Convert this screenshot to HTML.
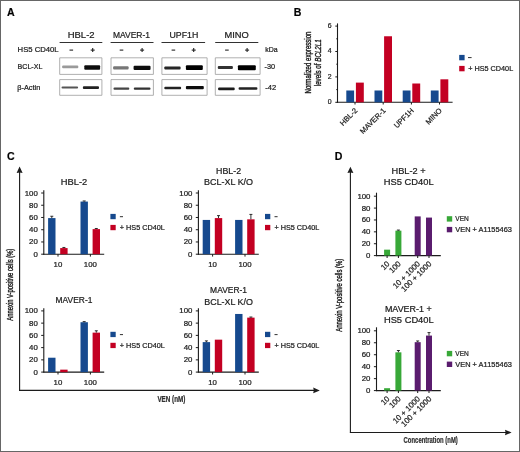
<!DOCTYPE html>
<html><head><meta charset="utf-8"><style>
html,body{margin:0;padding:0;background:#fff;}
body{width:520px;height:452px;overflow:hidden;}
svg{display:block;font-family:"Liberation Sans", sans-serif;}
text{stroke:#222;stroke-width:0.22px;}
</style></head><body>
<svg width="520" height="452" viewBox="0 0 520 452">
<defs><filter id="soft" x="0" y="0" width="100%" height="100%"><feGaussianBlur stdDeviation="0.4"/></filter>
<filter id="bb" x="-20%" y="-50%" width="140%" height="200%"><feGaussianBlur stdDeviation="0.75 0.7"/></filter></defs>
<rect x="0" y="0" width="520" height="452" fill="#fff"/>
<g filter="url(#soft)" stroke-linejoin="round">
<rect x="0" y="0" width="520" height="452" fill="#fff"/>
<text x="7" y="16" font-size="10.6" text-anchor="start" fill="#000" font-weight="bold" >A</text>
<text x="67.7" y="38.2" font-size="8.9" text-anchor="start" fill="#1a1a1a" textLength="26.9" lengthAdjust="spacingAndGlyphs" >HBL-2</text>
<text x="112.9" y="38.2" font-size="8.9" text-anchor="start" fill="#1a1a1a" textLength="37.1" lengthAdjust="spacingAndGlyphs" >MAVER-1</text>
<text x="169.5" y="38.2" font-size="8.9" text-anchor="start" fill="#1a1a1a" textLength="28.8" lengthAdjust="spacingAndGlyphs" >UPF1H</text>
<text x="224.5" y="38.2" font-size="8.9" text-anchor="start" fill="#1a1a1a" textLength="24.3" lengthAdjust="spacingAndGlyphs" >MINO</text>
<line x1="59.6" y1="42.5" x2="102.3" y2="42.5" stroke="#333" stroke-width="1.1"/>
<line x1="110.6" y1="42.5" x2="153.5" y2="42.5" stroke="#333" stroke-width="1.1"/>
<line x1="161.5" y1="42.5" x2="205.1" y2="42.5" stroke="#333" stroke-width="1.1"/>
<line x1="215.2" y1="42.5" x2="258.3" y2="42.5" stroke="#333" stroke-width="1.1"/>
<text x="17.6" y="52.4" font-size="7.2" text-anchor="start" fill="#1a1a1a" textLength="41" lengthAdjust="spacingAndGlyphs" >HS5 CD40L</text>
<line x1="69.5" y1="50.1" x2="73.1" y2="50.1" stroke="#222" stroke-width="1.1"/>
<line x1="119.7" y1="50.1" x2="123.3" y2="50.1" stroke="#222" stroke-width="1.1"/>
<line x1="171.6" y1="50.1" x2="175.20000000000002" y2="50.1" stroke="#222" stroke-width="1.1"/>
<line x1="225.1" y1="50.1" x2="228.70000000000002" y2="50.1" stroke="#222" stroke-width="1.1"/>
<line x1="90.7" y1="50.1" x2="94.7" y2="50.1" stroke="#222" stroke-width="1.1"/>
<line x1="92.7" y1="48.1" x2="92.7" y2="52.1" stroke="#222" stroke-width="1.1"/>
<line x1="140.1" y1="50.1" x2="144.1" y2="50.1" stroke="#222" stroke-width="1.1"/>
<line x1="142.1" y1="48.1" x2="142.1" y2="52.1" stroke="#222" stroke-width="1.1"/>
<line x1="191.7" y1="50.1" x2="195.7" y2="50.1" stroke="#222" stroke-width="1.1"/>
<line x1="193.7" y1="48.1" x2="193.7" y2="52.1" stroke="#222" stroke-width="1.1"/>
<line x1="245.1" y1="50.1" x2="249.1" y2="50.1" stroke="#222" stroke-width="1.1"/>
<line x1="247.1" y1="48.1" x2="247.1" y2="52.1" stroke="#222" stroke-width="1.1"/>
<text x="265.2" y="52.2" font-size="7.0" text-anchor="start" fill="#1a1a1a" textLength="12.4" lengthAdjust="spacingAndGlyphs" >kDa</text>
<text x="17.6" y="69.0" font-size="7.0" text-anchor="start" fill="#1a1a1a" textLength="24.8" lengthAdjust="spacingAndGlyphs" >BCL-XL</text>
<text x="17.3" y="89.5" font-size="7.0" text-anchor="start" fill="#1a1a1a" textLength="23" lengthAdjust="spacingAndGlyphs" >β-Actin</text>
<text x="264.5" y="68.9" font-size="7.0" text-anchor="start" fill="#1a1a1a" textLength="10.6" lengthAdjust="spacingAndGlyphs" >-30</text>
<text x="265.2" y="89.7" font-size="7.0" text-anchor="start" fill="#1a1a1a" textLength="10.9" lengthAdjust="spacingAndGlyphs" >-42</text>
<rect x="59.7" y="57.8" width="42.2" height="16.6" fill="#fff" stroke="#9c9c9c" stroke-width="0.8"/>
<rect x="59.7" y="79.6" width="42.2" height="15.7" fill="#fff" stroke="#9c9c9c" stroke-width="0.8"/>
<rect x="111.0" y="57.8" width="42.400000000000006" height="16.6" fill="#fff" stroke="#9c9c9c" stroke-width="0.8"/>
<rect x="111.0" y="79.6" width="42.400000000000006" height="15.7" fill="#fff" stroke="#9c9c9c" stroke-width="0.8"/>
<rect x="161.9" y="57.8" width="45.19999999999999" height="16.6" fill="#fff" stroke="#9c9c9c" stroke-width="0.8"/>
<rect x="161.9" y="79.6" width="45.19999999999999" height="15.7" fill="#fff" stroke="#9c9c9c" stroke-width="0.8"/>
<rect x="215.3" y="57.8" width="44.80000000000001" height="16.6" fill="#fff" stroke="#9c9c9c" stroke-width="0.8"/>
<rect x="215.3" y="79.6" width="44.80000000000001" height="15.7" fill="#fff" stroke="#9c9c9c" stroke-width="0.8"/>
<rect x="62.1" y="65.50" width="16.2" height="2.8" rx="1" fill="#9a9a9a" filter="url(#bb)"/>
<rect x="84.3" y="65.20" width="15.8" height="4.6" rx="1" fill="#0a0a0a" filter="url(#bb)"/>
<rect x="113.1" y="66.30" width="15.5" height="3.2" rx="1" fill="#777" filter="url(#bb)"/>
<rect x="133.6" y="65.70" width="16.9" height="4.4" rx="1" fill="#0a0a0a" filter="url(#bb)"/>
<rect x="164.3" y="66.40" width="16.3" height="3.0" rx="1" fill="#262626" filter="url(#bb)"/>
<rect x="185.9" y="65.30" width="16.9" height="4.8" rx="1" fill="#000" filter="url(#bb)"/>
<rect x="217.8" y="66.00" width="15.1" height="3.0" rx="1" fill="#303030" filter="url(#bb)"/>
<rect x="237.9" y="65.20" width="17.9" height="5.0" rx="1" fill="#000" filter="url(#bb)"/>
<rect x="61.5" y="86.40" width="16.6" height="2.2" rx="1" fill="#555" filter="url(#bb)"/>
<rect x="82.9" y="86.30" width="16.1" height="2.6" rx="1" fill="#222" filter="url(#bb)"/>
<rect x="113.5" y="87.50" width="15.8" height="2.2" rx="1" fill="#444" filter="url(#bb)"/>
<rect x="133.8" y="87.40" width="16.7" height="2.4" rx="1" fill="#333" filter="url(#bb)"/>
<rect x="164.3" y="86.80" width="16.8" height="2.4" rx="1" fill="#222" filter="url(#bb)"/>
<rect x="185.9" y="86.00" width="17.9" height="3.2" rx="1" fill="#0a0a0a" filter="url(#bb)"/>
<rect x="218.1" y="87.60" width="16.6" height="2.6" rx="1" fill="#1a1a1a" filter="url(#bb)"/>
<rect x="238.6" y="87.35" width="18.8" height="2.5" rx="1" fill="#222" filter="url(#bb)"/>
<text x="293.8" y="15.8" font-size="10.6" text-anchor="start" fill="#000" font-weight="bold" >B</text>
<line x1="337.5" y1="23.4" x2="337.5" y2="102.8" stroke="#1a1a1a" stroke-width="1.1"/>
<line x1="337.0" y1="102.3" x2="452.6" y2="102.3" stroke="#1a1a1a" stroke-width="1.1"/>
<line x1="335.3" y1="102.3" x2="337.5" y2="102.3" stroke="#1a1a1a" stroke-width="1"/>
<text x="331.6" y="104.2" font-size="6.9" text-anchor="end" fill="#1a1a1a" >0</text>
<line x1="336.3" y1="89.6" x2="337.5" y2="89.6" stroke="#1a1a1a" stroke-width="1"/>
<line x1="335.3" y1="76.9" x2="337.5" y2="76.9" stroke="#1a1a1a" stroke-width="1"/>
<text x="331.6" y="78.80000000000001" font-size="6.9" text-anchor="end" fill="#1a1a1a" >2</text>
<line x1="336.3" y1="64.2" x2="337.5" y2="64.2" stroke="#1a1a1a" stroke-width="1"/>
<line x1="335.3" y1="51.5" x2="337.5" y2="51.5" stroke="#1a1a1a" stroke-width="1"/>
<text x="331.6" y="53.4" font-size="6.9" text-anchor="end" fill="#1a1a1a" >4</text>
<line x1="336.3" y1="38.8" x2="337.5" y2="38.8" stroke="#1a1a1a" stroke-width="1"/>
<line x1="335.3" y1="26.10000000000001" x2="337.5" y2="26.10000000000001" stroke="#1a1a1a" stroke-width="1"/>
<text x="331.6" y="28.000000000000007" font-size="6.9" text-anchor="end" fill="#1a1a1a" >6</text>
<rect x="346.30" y="90.49" width="7.80" height="11.81" fill="#154a8e"/>
<rect x="355.90" y="82.61" width="7.90" height="19.68" fill="#c30024"/>
<line x1="355.0" y1="102.3" x2="355.0" y2="104.5" stroke="#1a1a1a" stroke-width="1"/>
<text x="358.0" y="111.1" font-size="7.5" text-anchor="end" fill="#1a1a1a" transform="rotate(-45 358.0 111.1)">HBL-2</text>
<rect x="374.50" y="90.49" width="7.80" height="11.81" fill="#154a8e"/>
<rect x="384.10" y="36.26" width="7.90" height="66.04" fill="#c30024"/>
<line x1="383.2" y1="102.3" x2="383.2" y2="104.5" stroke="#1a1a1a" stroke-width="1"/>
<text x="386.2" y="111.1" font-size="7.5" text-anchor="end" fill="#1a1a1a" transform="rotate(-45 386.2 111.1)">MAVER-1</text>
<rect x="402.70" y="90.49" width="7.80" height="11.81" fill="#154a8e"/>
<rect x="412.30" y="83.50" width="7.90" height="18.80" fill="#c30024"/>
<line x1="411.4" y1="102.3" x2="411.4" y2="104.5" stroke="#1a1a1a" stroke-width="1"/>
<text x="414.4" y="111.1" font-size="7.5" text-anchor="end" fill="#1a1a1a" transform="rotate(-45 414.4 111.1)">UPF1H</text>
<rect x="430.80" y="90.49" width="7.80" height="11.81" fill="#154a8e"/>
<rect x="440.40" y="79.31" width="7.90" height="22.99" fill="#c30024"/>
<line x1="439.5" y1="102.3" x2="439.5" y2="104.5" stroke="#1a1a1a" stroke-width="1"/>
<text x="442.5" y="111.1" font-size="7.5" text-anchor="end" fill="#1a1a1a" transform="rotate(-45 442.5 111.1)">MINO</text>
<text transform="translate(311.4 62.5) rotate(-90)" font-size="8.6" text-anchor="middle" fill="#111" style="stroke-width:.4px" textLength="62" lengthAdjust="spacingAndGlyphs">Normalized expression</text>
<text transform="translate(320.6 62.75) rotate(-90)" font-size="8.6" text-anchor="middle" fill="#111" style="stroke-width:.4px" textLength="47" lengthAdjust="spacingAndGlyphs">levels of <tspan font-style="italic">BCL2L1</tspan></text>
<rect x="459.20" y="54.90" width="5.40" height="5.40" fill="#154a8e"/>
<line x1="468.0" y1="57.6" x2="471.6" y2="57.6" stroke="#1a1a1a" stroke-width="0.9"/>
<rect x="459.20" y="65.90" width="5.40" height="5.40" fill="#c30024"/>
<text x="468.2" y="70.9" font-size="7.1" text-anchor="start" fill="#1a1a1a" textLength="45" lengthAdjust="spacingAndGlyphs" >+ HS5 CD40L</text>
<text x="6.9" y="159.9" font-size="10.6" text-anchor="start" fill="#000" font-weight="bold" >C</text>
<line x1="43.8" y1="190.3" x2="43.8" y2="254.7" stroke="#1a1a1a" stroke-width="1.1"/>
<line x1="43.3" y1="254.2" x2="104.2" y2="254.2" stroke="#1a1a1a" stroke-width="1.1"/>
<line x1="41.199999999999996" y1="254.2" x2="43.8" y2="254.2" stroke="#1a1a1a" stroke-width="1"/>
<text x="37.8" y="256.7" font-size="7.0" text-anchor="end" fill="#1a1a1a" textLength="4.36" lengthAdjust="spacingAndGlyphs" >0</text>
<line x1="41.199999999999996" y1="241.95999999999998" x2="43.8" y2="241.95999999999998" stroke="#1a1a1a" stroke-width="1"/>
<text x="37.8" y="244.45999999999998" font-size="7.0" text-anchor="end" fill="#1a1a1a" textLength="8.72" lengthAdjust="spacingAndGlyphs" >20</text>
<line x1="41.199999999999996" y1="229.72" x2="43.8" y2="229.72" stroke="#1a1a1a" stroke-width="1"/>
<text x="37.8" y="232.22" font-size="7.0" text-anchor="end" fill="#1a1a1a" textLength="8.72" lengthAdjust="spacingAndGlyphs" >40</text>
<line x1="41.199999999999996" y1="217.48" x2="43.8" y2="217.48" stroke="#1a1a1a" stroke-width="1"/>
<text x="37.8" y="219.98" font-size="7.0" text-anchor="end" fill="#1a1a1a" textLength="8.72" lengthAdjust="spacingAndGlyphs" >60</text>
<line x1="41.199999999999996" y1="205.23999999999998" x2="43.8" y2="205.23999999999998" stroke="#1a1a1a" stroke-width="1"/>
<text x="37.8" y="207.73999999999998" font-size="7.0" text-anchor="end" fill="#1a1a1a" textLength="8.72" lengthAdjust="spacingAndGlyphs" >80</text>
<line x1="41.199999999999996" y1="193.0" x2="43.8" y2="193.0" stroke="#1a1a1a" stroke-width="1"/>
<text x="37.8" y="195.5" font-size="7.0" text-anchor="end" fill="#1a1a1a" textLength="13.08" lengthAdjust="spacingAndGlyphs" >100</text>
<line x1="58.0" y1="254.2" x2="58.0" y2="256.59999999999997" stroke="#1a1a1a" stroke-width="1"/>
<rect x="48.10" y="218.09" width="7.40" height="36.11" fill="#154a8e"/>
<rect x="60.20" y="248.08" width="7.40" height="6.12" fill="#c30024"/>
<line x1="51.8" y1="216.25599999999997" x2="51.8" y2="218.09199999999998" stroke="#1a1a1a" stroke-width="0.9"/>
<line x1="50.3" y1="216.25599999999997" x2="53.3" y2="216.25599999999997" stroke="#1a1a1a" stroke-width="0.9"/>
<line x1="63.9" y1="247.468" x2="63.9" y2="248.07999999999998" stroke="#1a1a1a" stroke-width="0.9"/>
<line x1="62.4" y1="247.468" x2="65.4" y2="247.468" stroke="#1a1a1a" stroke-width="0.9"/>
<line x1="90.4" y1="254.2" x2="90.4" y2="256.59999999999997" stroke="#1a1a1a" stroke-width="1"/>
<rect x="80.50" y="201.57" width="7.40" height="52.63" fill="#154a8e"/>
<rect x="92.60" y="229.11" width="7.40" height="25.09" fill="#c30024"/>
<line x1="84.2" y1="200.956" x2="84.2" y2="201.56799999999998" stroke="#1a1a1a" stroke-width="0.9"/>
<line x1="82.7" y1="200.956" x2="85.7" y2="200.956" stroke="#1a1a1a" stroke-width="0.9"/>
<line x1="96.30000000000001" y1="228.49599999999998" x2="96.30000000000001" y2="229.108" stroke="#1a1a1a" stroke-width="0.9"/>
<line x1="94.80000000000001" y1="228.49599999999998" x2="97.80000000000001" y2="228.49599999999998" stroke="#1a1a1a" stroke-width="0.9"/>
<text x="58.0" y="266.6" font-size="7.0" text-anchor="middle" fill="#1a1a1a" textLength="8.72" lengthAdjust="spacingAndGlyphs" >10</text>
<text x="90.4" y="266.6" font-size="7.0" text-anchor="middle" fill="#1a1a1a" textLength="13.08" lengthAdjust="spacingAndGlyphs" >100</text>
<text x="74.0" y="184.9" font-size="8.6" text-anchor="middle" fill="#1a1a1a" textLength="26.5" lengthAdjust="spacingAndGlyphs" >HBL-2</text>
<rect x="110.40" y="213.90" width="5.30" height="5.30" fill="#154a8e"/>
<line x1="119.9" y1="216.7" x2="123.0" y2="216.7" stroke="#1a1a1a" stroke-width="0.9"/>
<rect x="110.40" y="224.90" width="5.30" height="5.30" fill="#c30024"/>
<text x="119.8" y="229.9" font-size="7.1" text-anchor="start" fill="#1a1a1a" textLength="45" lengthAdjust="spacingAndGlyphs" >+ HS5 CD40L</text>
<line x1="198.39999999999998" y1="190.3" x2="198.39999999999998" y2="254.7" stroke="#1a1a1a" stroke-width="1.1"/>
<line x1="197.89999999999998" y1="254.2" x2="258.8" y2="254.2" stroke="#1a1a1a" stroke-width="1.1"/>
<line x1="195.79999999999998" y1="254.2" x2="198.39999999999998" y2="254.2" stroke="#1a1a1a" stroke-width="1"/>
<text x="192.39999999999998" y="256.7" font-size="7.0" text-anchor="end" fill="#1a1a1a" textLength="4.36" lengthAdjust="spacingAndGlyphs" >0</text>
<line x1="195.79999999999998" y1="241.95999999999998" x2="198.39999999999998" y2="241.95999999999998" stroke="#1a1a1a" stroke-width="1"/>
<text x="192.39999999999998" y="244.45999999999998" font-size="7.0" text-anchor="end" fill="#1a1a1a" textLength="8.72" lengthAdjust="spacingAndGlyphs" >20</text>
<line x1="195.79999999999998" y1="229.72" x2="198.39999999999998" y2="229.72" stroke="#1a1a1a" stroke-width="1"/>
<text x="192.39999999999998" y="232.22" font-size="7.0" text-anchor="end" fill="#1a1a1a" textLength="8.72" lengthAdjust="spacingAndGlyphs" >40</text>
<line x1="195.79999999999998" y1="217.48" x2="198.39999999999998" y2="217.48" stroke="#1a1a1a" stroke-width="1"/>
<text x="192.39999999999998" y="219.98" font-size="7.0" text-anchor="end" fill="#1a1a1a" textLength="8.72" lengthAdjust="spacingAndGlyphs" >60</text>
<line x1="195.79999999999998" y1="205.23999999999998" x2="198.39999999999998" y2="205.23999999999998" stroke="#1a1a1a" stroke-width="1"/>
<text x="192.39999999999998" y="207.73999999999998" font-size="7.0" text-anchor="end" fill="#1a1a1a" textLength="8.72" lengthAdjust="spacingAndGlyphs" >80</text>
<line x1="195.79999999999998" y1="193.0" x2="198.39999999999998" y2="193.0" stroke="#1a1a1a" stroke-width="1"/>
<text x="192.39999999999998" y="195.5" font-size="7.0" text-anchor="end" fill="#1a1a1a" textLength="13.08" lengthAdjust="spacingAndGlyphs" >100</text>
<line x1="212.6" y1="254.2" x2="212.6" y2="256.59999999999997" stroke="#1a1a1a" stroke-width="1"/>
<rect x="202.70" y="219.93" width="7.40" height="34.27" fill="#154a8e"/>
<rect x="214.80" y="218.09" width="7.40" height="36.11" fill="#c30024"/>
<line x1="218.5" y1="215.644" x2="218.5" y2="218.09199999999998" stroke="#1a1a1a" stroke-width="0.9"/>
<line x1="217.0" y1="215.644" x2="220.0" y2="215.644" stroke="#1a1a1a" stroke-width="0.9"/>
<line x1="245.0" y1="254.2" x2="245.0" y2="256.59999999999997" stroke="#1a1a1a" stroke-width="1"/>
<rect x="235.10" y="219.93" width="7.40" height="34.27" fill="#154a8e"/>
<rect x="247.20" y="219.32" width="7.40" height="34.88" fill="#c30024"/>
<line x1="250.9" y1="214.42" x2="250.9" y2="219.31599999999997" stroke="#1a1a1a" stroke-width="0.9"/>
<line x1="249.4" y1="214.42" x2="252.4" y2="214.42" stroke="#1a1a1a" stroke-width="0.9"/>
<text x="212.6" y="266.6" font-size="7.0" text-anchor="middle" fill="#1a1a1a" textLength="8.72" lengthAdjust="spacingAndGlyphs" >10</text>
<text x="245.0" y="266.6" font-size="7.0" text-anchor="middle" fill="#1a1a1a" textLength="13.08" lengthAdjust="spacingAndGlyphs" >100</text>
<text x="228.6" y="174.0" font-size="8.6" text-anchor="middle" fill="#1a1a1a" textLength="25" lengthAdjust="spacingAndGlyphs" >HBL-2</text>
<text x="228.6" y="184.9" font-size="8.6" text-anchor="middle" fill="#1a1a1a" textLength="49" lengthAdjust="spacingAndGlyphs" >BCL-XL K/O</text>
<rect x="265.00" y="213.90" width="5.30" height="5.30" fill="#154a8e"/>
<line x1="274.5" y1="216.7" x2="277.6" y2="216.7" stroke="#1a1a1a" stroke-width="0.9"/>
<rect x="265.00" y="224.90" width="5.30" height="5.30" fill="#c30024"/>
<text x="274.4" y="229.9" font-size="7.1" text-anchor="start" fill="#1a1a1a" textLength="45" lengthAdjust="spacingAndGlyphs" >+ HS5 CD40L</text>
<line x1="43.8" y1="308.20000000000005" x2="43.8" y2="372.6" stroke="#1a1a1a" stroke-width="1.1"/>
<line x1="43.3" y1="372.1" x2="104.2" y2="372.1" stroke="#1a1a1a" stroke-width="1.1"/>
<line x1="41.199999999999996" y1="372.1" x2="43.8" y2="372.1" stroke="#1a1a1a" stroke-width="1"/>
<text x="37.8" y="374.6" font-size="7.0" text-anchor="end" fill="#1a1a1a" textLength="4.36" lengthAdjust="spacingAndGlyphs" >0</text>
<line x1="41.199999999999996" y1="359.86" x2="43.8" y2="359.86" stroke="#1a1a1a" stroke-width="1"/>
<text x="37.8" y="362.36" font-size="7.0" text-anchor="end" fill="#1a1a1a" textLength="8.72" lengthAdjust="spacingAndGlyphs" >20</text>
<line x1="41.199999999999996" y1="347.62" x2="43.8" y2="347.62" stroke="#1a1a1a" stroke-width="1"/>
<text x="37.8" y="350.12" font-size="7.0" text-anchor="end" fill="#1a1a1a" textLength="8.72" lengthAdjust="spacingAndGlyphs" >40</text>
<line x1="41.199999999999996" y1="335.38" x2="43.8" y2="335.38" stroke="#1a1a1a" stroke-width="1"/>
<text x="37.8" y="337.88" font-size="7.0" text-anchor="end" fill="#1a1a1a" textLength="8.72" lengthAdjust="spacingAndGlyphs" >60</text>
<line x1="41.199999999999996" y1="323.14000000000004" x2="43.8" y2="323.14000000000004" stroke="#1a1a1a" stroke-width="1"/>
<text x="37.8" y="325.64000000000004" font-size="7.0" text-anchor="end" fill="#1a1a1a" textLength="8.72" lengthAdjust="spacingAndGlyphs" >80</text>
<line x1="41.199999999999996" y1="310.90000000000003" x2="43.8" y2="310.90000000000003" stroke="#1a1a1a" stroke-width="1"/>
<text x="37.8" y="313.40000000000003" font-size="7.0" text-anchor="end" fill="#1a1a1a" textLength="13.08" lengthAdjust="spacingAndGlyphs" >100</text>
<line x1="58.0" y1="372.1" x2="58.0" y2="374.5" stroke="#1a1a1a" stroke-width="1"/>
<rect x="48.10" y="357.72" width="7.40" height="14.38" fill="#154a8e"/>
<rect x="60.20" y="369.65" width="7.40" height="2.45" fill="#c30024"/>
<line x1="90.4" y1="372.1" x2="90.4" y2="374.5" stroke="#1a1a1a" stroke-width="1"/>
<rect x="80.50" y="322.22" width="7.40" height="49.88" fill="#154a8e"/>
<rect x="92.60" y="332.63" width="7.40" height="39.47" fill="#c30024"/>
<line x1="84.2" y1="321.61" x2="84.2" y2="322.22200000000004" stroke="#1a1a1a" stroke-width="0.9"/>
<line x1="82.7" y1="321.61" x2="85.7" y2="321.61" stroke="#1a1a1a" stroke-width="0.9"/>
<line x1="96.30000000000001" y1="330.79" x2="96.30000000000001" y2="332.62600000000003" stroke="#1a1a1a" stroke-width="0.9"/>
<line x1="94.80000000000001" y1="330.79" x2="97.80000000000001" y2="330.79" stroke="#1a1a1a" stroke-width="0.9"/>
<text x="58.0" y="384.5" font-size="7.0" text-anchor="middle" fill="#1a1a1a" textLength="8.72" lengthAdjust="spacingAndGlyphs" >10</text>
<text x="90.4" y="384.5" font-size="7.0" text-anchor="middle" fill="#1a1a1a" textLength="13.08" lengthAdjust="spacingAndGlyphs" >100</text>
<text x="74.0" y="303.0" font-size="8.6" text-anchor="middle" fill="#1a1a1a" textLength="36.8" lengthAdjust="spacingAndGlyphs" >MAVER-1</text>
<rect x="110.40" y="331.80" width="5.30" height="5.30" fill="#154a8e"/>
<line x1="119.9" y1="334.6" x2="123.0" y2="334.6" stroke="#1a1a1a" stroke-width="0.9"/>
<rect x="110.40" y="342.80" width="5.30" height="5.30" fill="#c30024"/>
<text x="119.8" y="347.8" font-size="7.1" text-anchor="start" fill="#1a1a1a" textLength="45" lengthAdjust="spacingAndGlyphs" >+ HS5 CD40L</text>
<line x1="198.39999999999998" y1="308.20000000000005" x2="198.39999999999998" y2="372.6" stroke="#1a1a1a" stroke-width="1.1"/>
<line x1="197.89999999999998" y1="372.1" x2="258.8" y2="372.1" stroke="#1a1a1a" stroke-width="1.1"/>
<line x1="195.79999999999998" y1="372.1" x2="198.39999999999998" y2="372.1" stroke="#1a1a1a" stroke-width="1"/>
<text x="192.39999999999998" y="374.6" font-size="7.0" text-anchor="end" fill="#1a1a1a" textLength="4.36" lengthAdjust="spacingAndGlyphs" >0</text>
<line x1="195.79999999999998" y1="359.86" x2="198.39999999999998" y2="359.86" stroke="#1a1a1a" stroke-width="1"/>
<text x="192.39999999999998" y="362.36" font-size="7.0" text-anchor="end" fill="#1a1a1a" textLength="8.72" lengthAdjust="spacingAndGlyphs" >20</text>
<line x1="195.79999999999998" y1="347.62" x2="198.39999999999998" y2="347.62" stroke="#1a1a1a" stroke-width="1"/>
<text x="192.39999999999998" y="350.12" font-size="7.0" text-anchor="end" fill="#1a1a1a" textLength="8.72" lengthAdjust="spacingAndGlyphs" >40</text>
<line x1="195.79999999999998" y1="335.38" x2="198.39999999999998" y2="335.38" stroke="#1a1a1a" stroke-width="1"/>
<text x="192.39999999999998" y="337.88" font-size="7.0" text-anchor="end" fill="#1a1a1a" textLength="8.72" lengthAdjust="spacingAndGlyphs" >60</text>
<line x1="195.79999999999998" y1="323.14000000000004" x2="198.39999999999998" y2="323.14000000000004" stroke="#1a1a1a" stroke-width="1"/>
<text x="192.39999999999998" y="325.64000000000004" font-size="7.0" text-anchor="end" fill="#1a1a1a" textLength="8.72" lengthAdjust="spacingAndGlyphs" >80</text>
<line x1="195.79999999999998" y1="310.90000000000003" x2="198.39999999999998" y2="310.90000000000003" stroke="#1a1a1a" stroke-width="1"/>
<text x="192.39999999999998" y="313.40000000000003" font-size="7.0" text-anchor="end" fill="#1a1a1a" textLength="13.08" lengthAdjust="spacingAndGlyphs" >100</text>
<line x1="212.6" y1="372.1" x2="212.6" y2="374.5" stroke="#1a1a1a" stroke-width="1"/>
<rect x="202.70" y="342.11" width="7.40" height="29.99" fill="#154a8e"/>
<rect x="214.80" y="339.66" width="7.40" height="32.44" fill="#c30024"/>
<line x1="206.4" y1="340.88800000000003" x2="206.4" y2="342.112" stroke="#1a1a1a" stroke-width="0.9"/>
<line x1="204.9" y1="340.88800000000003" x2="207.9" y2="340.88800000000003" stroke="#1a1a1a" stroke-width="0.9"/>
<line x1="245.0" y1="372.1" x2="245.0" y2="374.5" stroke="#1a1a1a" stroke-width="1"/>
<rect x="235.10" y="313.96" width="7.40" height="58.14" fill="#154a8e"/>
<rect x="247.20" y="317.63" width="7.40" height="54.47" fill="#c30024"/>
<line x1="250.9" y1="317.02000000000004" x2="250.9" y2="317.632" stroke="#1a1a1a" stroke-width="0.9"/>
<line x1="249.4" y1="317.02000000000004" x2="252.4" y2="317.02000000000004" stroke="#1a1a1a" stroke-width="0.9"/>
<text x="212.6" y="384.5" font-size="7.0" text-anchor="middle" fill="#1a1a1a" textLength="8.72" lengthAdjust="spacingAndGlyphs" >10</text>
<text x="245.0" y="384.5" font-size="7.0" text-anchor="middle" fill="#1a1a1a" textLength="13.08" lengthAdjust="spacingAndGlyphs" >100</text>
<text x="228.6" y="293.20000000000005" font-size="8.6" text-anchor="middle" fill="#1a1a1a" textLength="37" lengthAdjust="spacingAndGlyphs" >MAVER-1</text>
<text x="228.6" y="304.70000000000005" font-size="8.6" text-anchor="middle" fill="#1a1a1a" textLength="48.7" lengthAdjust="spacingAndGlyphs" >BCL-XL K/O</text>
<rect x="265.00" y="331.80" width="5.30" height="5.30" fill="#154a8e"/>
<line x1="274.5" y1="334.6" x2="277.6" y2="334.6" stroke="#1a1a1a" stroke-width="0.9"/>
<rect x="265.00" y="342.80" width="5.30" height="5.30" fill="#c30024"/>
<text x="274.4" y="347.8" font-size="7.1" text-anchor="start" fill="#1a1a1a" textLength="45" lengthAdjust="spacingAndGlyphs" >+ HS5 CD40L</text>
<line x1="19.6" y1="170.6" x2="19.6" y2="390.9" stroke="#1a1a1a" stroke-width="1.1"/>
<path d="M19.6 166.6 L16.6 173.0 L19.6 172.5 L22.6 173.0 Z" fill="#1a1a1a"/>
<line x1="19.05" y1="390.4" x2="315.8" y2="390.4" stroke="#1a1a1a" stroke-width="1.1"/>
<path d="M319.8 390.4 L313.2 387.59999999999997 L313.8 390.4 L313.2 393.2 Z" fill="#1a1a1a"/>
<text x="157.4" y="401.6" font-size="8.8" font-weight="bold" fill="#333" textLength="28" lengthAdjust="spacingAndGlyphs">VEN (nM)</text>
<text transform="translate(12.9 284.7) rotate(-90)" font-size="8.6" text-anchor="middle" fill="#111" style="stroke-width:.4px" textLength="72" lengthAdjust="spacingAndGlyphs">Annexin V-positive cells (%)</text>
<text x="334.8" y="159.6" font-size="10.6" text-anchor="start" fill="#000" font-weight="bold" >D</text>
<line x1="376.5" y1="192.7" x2="376.5" y2="256.1" stroke="#1a1a1a" stroke-width="1.1"/>
<line x1="376.0" y1="255.6" x2="440.8" y2="255.6" stroke="#1a1a1a" stroke-width="1.1"/>
<line x1="373.9" y1="255.6" x2="376.5" y2="255.6" stroke="#1a1a1a" stroke-width="1"/>
<text x="370.5" y="258.1" font-size="7.0" text-anchor="end" fill="#1a1a1a" textLength="4.36" lengthAdjust="spacingAndGlyphs" >0</text>
<line x1="373.9" y1="243.72" x2="376.5" y2="243.72" stroke="#1a1a1a" stroke-width="1"/>
<text x="370.5" y="246.22" font-size="7.0" text-anchor="end" fill="#1a1a1a" textLength="8.72" lengthAdjust="spacingAndGlyphs" >20</text>
<line x1="373.9" y1="231.83999999999997" x2="376.5" y2="231.83999999999997" stroke="#1a1a1a" stroke-width="1"/>
<text x="370.5" y="234.33999999999997" font-size="7.0" text-anchor="end" fill="#1a1a1a" textLength="8.72" lengthAdjust="spacingAndGlyphs" >40</text>
<line x1="373.9" y1="219.95999999999998" x2="376.5" y2="219.95999999999998" stroke="#1a1a1a" stroke-width="1"/>
<text x="370.5" y="222.45999999999998" font-size="7.0" text-anchor="end" fill="#1a1a1a" textLength="8.72" lengthAdjust="spacingAndGlyphs" >60</text>
<line x1="373.9" y1="208.07999999999998" x2="376.5" y2="208.07999999999998" stroke="#1a1a1a" stroke-width="1"/>
<text x="370.5" y="210.57999999999998" font-size="7.0" text-anchor="end" fill="#1a1a1a" textLength="8.72" lengthAdjust="spacingAndGlyphs" >80</text>
<line x1="373.9" y1="196.2" x2="376.5" y2="196.2" stroke="#1a1a1a" stroke-width="1"/>
<text x="370.5" y="198.7" font-size="7.0" text-anchor="end" fill="#1a1a1a" textLength="13.08" lengthAdjust="spacingAndGlyphs" >100</text>
<rect x="384.10" y="249.66" width="6.00" height="5.94" fill="#38a838"/>
<line x1="387.1" y1="255.6" x2="387.1" y2="258.0" stroke="#1a1a1a" stroke-width="1"/>
<text x="390.1" y="264.4" font-size="7.8" text-anchor="end" fill="#1a1a1a" transform="rotate(-45 390.1 264.4)">10</text>
<rect x="395.40" y="230.65" width="6.00" height="24.95" fill="#38a838"/>
<line x1="398.4" y1="255.6" x2="398.4" y2="258.0" stroke="#1a1a1a" stroke-width="1"/>
<line x1="398.4" y1="230.058" x2="398.4" y2="230.652" stroke="#1a1a1a" stroke-width="0.9"/>
<line x1="396.9" y1="230.058" x2="399.9" y2="230.058" stroke="#1a1a1a" stroke-width="0.9"/>
<text x="401.4" y="264.4" font-size="7.8" text-anchor="end" fill="#1a1a1a" transform="rotate(-45 401.4 264.4)">100</text>
<rect x="414.70" y="216.40" width="6.00" height="39.20" fill="#5a1f6e"/>
<line x1="417.7" y1="255.6" x2="417.7" y2="258.0" stroke="#1a1a1a" stroke-width="1"/>
<text x="420.7" y="264.4" font-size="7.8" text-anchor="end" fill="#1a1a1a" transform="rotate(-45 420.7 264.4)">10 + 1000</text>
<rect x="426.00" y="217.58" width="6.00" height="38.02" fill="#5a1f6e"/>
<line x1="429.0" y1="255.6" x2="429.0" y2="258.0" stroke="#1a1a1a" stroke-width="1"/>
<text x="432.0" y="264.4" font-size="7.8" text-anchor="end" fill="#1a1a1a" transform="rotate(-45 432.0 264.4)">100 + 1000</text>
<text x="391.5" y="173.7" font-size="8.6" text-anchor="start" fill="#1a1a1a" textLength="34.1" lengthAdjust="spacingAndGlyphs" >HBL-2 +</text>
<text x="383.8" y="184.6" font-size="8.6" text-anchor="start" fill="#1a1a1a" textLength="49.8" lengthAdjust="spacingAndGlyphs" >HS5 CD40L</text>
<rect x="446.80" y="216.20" width="5.40" height="5.40" fill="#38a838"/>
<text x="455.3" y="221.29999999999998" font-size="7.1" text-anchor="start" fill="#1a1a1a" textLength="13.5" lengthAdjust="spacingAndGlyphs" >VEN</text>
<rect x="446.80" y="226.90" width="5.40" height="5.40" fill="#5a1f6e"/>
<text x="455.3" y="232.0" font-size="7.1" text-anchor="start" fill="#1a1a1a" textLength="56.6" lengthAdjust="spacingAndGlyphs" >VEN + A1155463</text>
<line x1="376.5" y1="327.3" x2="376.5" y2="391.1" stroke="#1a1a1a" stroke-width="1.1"/>
<line x1="376.0" y1="390.6" x2="440.8" y2="390.6" stroke="#1a1a1a" stroke-width="1.1"/>
<line x1="373.9" y1="390.6" x2="376.5" y2="390.6" stroke="#1a1a1a" stroke-width="1"/>
<text x="370.5" y="393.1" font-size="7.0" text-anchor="end" fill="#1a1a1a" textLength="4.36" lengthAdjust="spacingAndGlyphs" >0</text>
<line x1="373.9" y1="378.64000000000004" x2="376.5" y2="378.64000000000004" stroke="#1a1a1a" stroke-width="1"/>
<text x="370.5" y="381.14000000000004" font-size="7.0" text-anchor="end" fill="#1a1a1a" textLength="8.72" lengthAdjust="spacingAndGlyphs" >20</text>
<line x1="373.9" y1="366.68" x2="376.5" y2="366.68" stroke="#1a1a1a" stroke-width="1"/>
<text x="370.5" y="369.18" font-size="7.0" text-anchor="end" fill="#1a1a1a" textLength="8.72" lengthAdjust="spacingAndGlyphs" >40</text>
<line x1="373.9" y1="354.72" x2="376.5" y2="354.72" stroke="#1a1a1a" stroke-width="1"/>
<text x="370.5" y="357.22" font-size="7.0" text-anchor="end" fill="#1a1a1a" textLength="8.72" lengthAdjust="spacingAndGlyphs" >60</text>
<line x1="373.9" y1="342.76" x2="376.5" y2="342.76" stroke="#1a1a1a" stroke-width="1"/>
<text x="370.5" y="345.26" font-size="7.0" text-anchor="end" fill="#1a1a1a" textLength="8.72" lengthAdjust="spacingAndGlyphs" >80</text>
<line x1="373.9" y1="330.8" x2="376.5" y2="330.8" stroke="#1a1a1a" stroke-width="1"/>
<text x="370.5" y="333.3" font-size="7.0" text-anchor="end" fill="#1a1a1a" textLength="13.08" lengthAdjust="spacingAndGlyphs" >100</text>
<rect x="384.10" y="388.21" width="6.00" height="2.39" fill="#38a838"/>
<line x1="387.1" y1="390.6" x2="387.1" y2="393.0" stroke="#1a1a1a" stroke-width="1"/>
<text x="390.1" y="399.40000000000003" font-size="7.8" text-anchor="end" fill="#1a1a1a" transform="rotate(-45 390.1 399.40000000000003)">10</text>
<rect x="395.40" y="352.33" width="6.00" height="38.27" fill="#38a838"/>
<line x1="398.4" y1="390.6" x2="398.4" y2="393.0" stroke="#1a1a1a" stroke-width="1"/>
<line x1="398.4" y1="350.534" x2="398.4" y2="352.32800000000003" stroke="#1a1a1a" stroke-width="0.9"/>
<line x1="396.9" y1="350.534" x2="399.9" y2="350.534" stroke="#1a1a1a" stroke-width="0.9"/>
<text x="401.4" y="399.40000000000003" font-size="7.8" text-anchor="end" fill="#1a1a1a" transform="rotate(-45 401.4 399.40000000000003)">100</text>
<rect x="414.70" y="342.16" width="6.00" height="48.44" fill="#5a1f6e"/>
<line x1="417.7" y1="390.6" x2="417.7" y2="393.0" stroke="#1a1a1a" stroke-width="1"/>
<line x1="417.7" y1="340.966" x2="417.7" y2="342.16200000000003" stroke="#1a1a1a" stroke-width="0.9"/>
<line x1="416.2" y1="340.966" x2="419.2" y2="340.966" stroke="#1a1a1a" stroke-width="0.9"/>
<text x="420.7" y="399.40000000000003" font-size="7.8" text-anchor="end" fill="#1a1a1a" transform="rotate(-45 420.7 399.40000000000003)">10 + 1000</text>
<rect x="426.00" y="335.58" width="6.00" height="55.02" fill="#5a1f6e"/>
<line x1="429.0" y1="390.6" x2="429.0" y2="393.0" stroke="#1a1a1a" stroke-width="1"/>
<line x1="429.0" y1="332.594" x2="429.0" y2="335.584" stroke="#1a1a1a" stroke-width="0.9"/>
<line x1="427.5" y1="332.594" x2="430.5" y2="332.594" stroke="#1a1a1a" stroke-width="0.9"/>
<text x="432.0" y="399.40000000000003" font-size="7.8" text-anchor="end" fill="#1a1a1a" transform="rotate(-45 432.0 399.40000000000003)">100 + 1000</text>
<text x="384.9" y="311.5" font-size="8.6" text-anchor="start" fill="#1a1a1a" textLength="46.8" lengthAdjust="spacingAndGlyphs" >MAVER-1 +</text>
<text x="383.9" y="322.5" font-size="8.6" text-anchor="start" fill="#1a1a1a" textLength="49.8" lengthAdjust="spacingAndGlyphs" >HS5 CD40L</text>
<rect x="446.80" y="350.90" width="5.40" height="5.40" fill="#38a838"/>
<text x="455.3" y="356.0" font-size="7.1" text-anchor="start" fill="#1a1a1a" textLength="13.5" lengthAdjust="spacingAndGlyphs" >VEN</text>
<rect x="446.80" y="361.60" width="5.40" height="5.40" fill="#5a1f6e"/>
<text x="455.3" y="366.7" font-size="7.1" text-anchor="start" fill="#1a1a1a" textLength="56.6" lengthAdjust="spacingAndGlyphs" >VEN + A1155463</text>
<line x1="350.4" y1="170.7" x2="350.4" y2="433.0" stroke="#1a1a1a" stroke-width="1.1"/>
<path d="M350.4 166.7 L347.4 173.1 L350.4 172.6 L353.4 173.1 Z" fill="#1a1a1a"/>
<line x1="349.95" y1="432.5" x2="507.6" y2="432.5" stroke="#1a1a1a" stroke-width="1.1"/>
<path d="M511.6 432.5 L505.0 429.7 L505.6 432.5 L505.0 435.3 Z" fill="#1a1a1a"/>
<text x="403.6" y="443.4" font-size="8.8" font-weight="bold" fill="#333" textLength="54.2" lengthAdjust="spacingAndGlyphs">Concentration (nM)</text>
<text transform="translate(342.3 295.3) rotate(-90)" font-size="8.6" text-anchor="middle" fill="#111" style="stroke-width:.4px" textLength="73" lengthAdjust="spacingAndGlyphs">Annexin V-positive cells (%)</text>
</g>
<rect x="0.5" y="0.5" width="519" height="451" fill="none" stroke="#666" stroke-width="1"/>
</svg>
</body></html>
